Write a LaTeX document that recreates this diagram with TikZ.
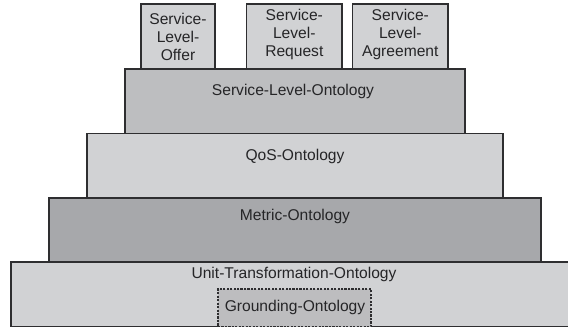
\documentclass[tikz,border=0pt]{standalone}
\usepackage{fontspec}
\setmainfont{Liberation Sans}
\usetikzlibrary{fit}
\definecolor{linec}{HTML}{2E2E30}
\definecolor{textc}{HTML}{252527}
\definecolor{lightg}{HTML}{D1D2D4}
\definecolor{midg}{HTML}{BDBEC0}
\definecolor{darkg}{HTML}{A7A8AB}
\definecolor{groundg}{HTML}{BDBDBF}
\begin{document}
\begin{tikzpicture}[x=0.75pt,y=-0.75pt,
  layer/.style={draw=linec, line width=0.9pt, inner sep=0pt, outer sep=0pt, rectangle},
  txt/.style={font=\fontsize{11.7}{13.5}\selectfont, text=textc, inner sep=0pt, anchor=base},
  toptxt/.style={font=\fontsize{11.7}{13.5}\selectfont, text=textc, inner sep=0pt, anchor=north, align=center}]
\useasboundingbox (0,0) rectangle (568,328);
% layers
\node[layer, fill=lightg, fit={(11,262) (572,326.5)}] (unit) {};
\node[layer, fill=darkg, fit={(49,198) (541,262)}] (metric) {};
\node[layer, fill=lightg, fit={(87,133.5) (503,198)}] (qos) {};
\node[layer, fill=midg, fit={(125,69) (465,133.5)}] (slo) {};
\node[layer, fill=lightg, fit={(141,4) (215,69)}] (offer) {};
\node[layer, fill=lightg, fit={(246.7,4) (342,69)}] (request) {};
\node[layer, fill=lightg, fit={(352.7,4) (448,69)}] (agree) {};
\node[layer, dash pattern=on 1.6pt off 1pt, fill=groundg, fit={(218,289) (371,326.5)}] (ground) {};
% texts
\node[txt] (slot) at (293,95.7) {Service-Level-Ontology};
\node[txt] (qost) at (295,160.3) {QoS-Ontology};
\node[txt] (metrict) at (295,220.3) {Metric-Ontology};
\node[txt] (unitt) at (294,278.3) {Unit-Transformation-Ontology};
\node[txt] (groundt) at (295,311.7) {Grounding-Ontology};
\node[toptxt] (offert) at (178,13.3) {Service-\\Level-\\Offer};
\node[toptxt] (requestt) at (294.3,9.3) {Service-\\Level-\\Request};
\node[toptxt] (agreet) at (400.3,9.3) {Service-\\Level-\\Agreement};
\end{tikzpicture}
\end{document}
